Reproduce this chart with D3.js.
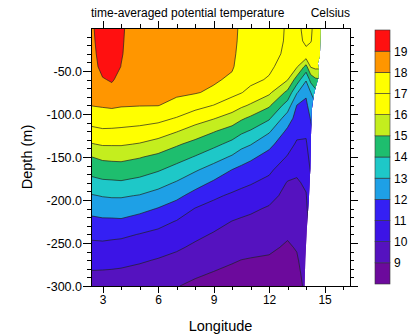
<!DOCTYPE html>
<html>
<head>
<meta charset="utf-8">
<script src="https://cdn.jsdelivr.net/npm/d3@7"></script>
<style>
  body { margin: 0; background: #fff; }
  svg { display: block; font-family: "Liberation Sans", Arial, Helvetica, sans-serif; }
</style>
</head>
<body>
<svg id="chart" width="408" height="336"></svg>
<script>
// grid: one column of temperatures per longitude,
// top to bottom at the depths below
const lons = [2.375, 3, 3.5, 4, 5, 6, 7, 8, 9, 10, 10.5, 11, 12, 13, 13.5, 14, 14.25, 14.5, 15];
const depths = [0, 15, 30, 45, 60, 75, 90, 105, 120, 135, 150, 165, 180, 195, 210, 225, 240, 255, 270, 285, 300];

const temps = [
  [18.85, 18.8, 18.72, 18.6, 18.42, 18.2, 18.02, 17.42, 16.74, 15.94, 14.98, 14.35, 13.65, 12.92, 12.32, 11.75, 11.21, 10.74, 10.31, 9.92, 9.6],   // 2.375
  [19.4, 19.38, 19.34, 19.26, 18.94, 18.51, 18.09, 17.51, 16.87, 16.1, 15.19, 14.49, 13.82, 13.05, 12.43, 11.83, 11.26, 10.76, 10.32, 9.9, 9.55],   // 3
  [19.45, 19.42, 19.36, 19.25, 19.08, 18.73, 18.15, 17.52, 16.85, 16.1, 15.24, 14.52, 13.85, 13.1, 12.46, 11.83, 11.21, 10.71, 10.29, 9.88, 9.55], // 3.5
  [19.06, 19.05, 19.04, 18.99, 18.77, 18.42, 18.07, 17.48, 16.81, 16.1, 15.26, 14.55, 13.89, 13.1, 12.48, 11.86, 11.17, 10.67, 10.24, 9.85, 9.5],  // 4
  [18.75, 18.72, 18.65, 18.55, 18.42, 18.24, 18.03, 17.41, 16.7, 15.94, 15.06, 14.39, 13.7, 12.95, 12.27, 11.61, 10.97, 10.54, 10.11, 9.72, 9.4],   // 5
  [18.8, 18.75, 18.67, 18.55, 18.4, 18.2, 18.02, 17.28, 16.49, 15.63, 14.77, 14.09, 13.35, 12.64, 11.96, 11.3, 10.78, 10.36, 9.94, 9.53, 9.11],     // 6
  [18.7, 18.65, 18.57, 18.45, 18.3, 18.15, 17.74, 16.94, 16.06, 15.13, 14.38, 13.65, 12.91, 12.23, 11.57, 10.95, 10.54, 10.14, 9.73, 9.36, 9.04],   // 7
  [18.6, 18.55, 18.47, 18.35, 18.22, 18.07, 17.33, 16.46, 15.56, 14.7, 13.94, 13.11, 12.38, 11.67, 10.97, 10.59, 10.21, 9.84, 9.49, 9.14, 8.82],    // 8
  [18.5, 18.45, 18.38, 18.27, 18.13, 17.83, 16.98, 16.06, 15.07, 14.26, 13.41, 12.6, 11.86, 11.16, 10.7, 10.31, 9.93, 9.61, 9.28, 8.96, 8.7],       // 9
  [18.25, 18.22, 18.17, 18.1, 17.84, 17.26, 16.52, 15.57, 14.59, 13.72, 12.88, 11.98, 11.4, 10.86, 10.43, 9.98, 9.69, 9.39, 9.08, 8.8, 8.55],       // 10
  [17.85, 17.82, 17.75, 17.62, 17.4, 17.04, 16.18, 15.14, 14.19, 13.33, 12.47, 11.75, 11.21, 10.73, 10.27, 9.88, 9.59, 9.29, 8.99, 8.75, 8.5],      // 10.5
  [17.7, 17.66, 17.58, 17.45, 17.25, 16.73, 15.89, 14.82, 13.92, 13.06, 12.18, 11.59, 11.07, 10.61, 10.15, 9.81, 9.52, 9.23, 8.95, 8.7, 8.45],      // 11
  [17.45, 17.42, 17.35, 17.2, 16.9, 16.19, 15.15, 14.13, 13.13, 12.26, 11.67, 11.19, 10.74, 10.29, 9.91, 9.66, 9.4, 9.14, 8.9, 8.7, 8.5],           // 12
  [16.9, 16.88, 16.8, 16.5, 16.05, 14.75, 13.54, 12.5, 11.8, 11.37, 10.93, 10.39, 9.94, 9.73, 9.51, 9.3, 9.09, 8.9, 8.75, 8.6, 8.45],                // 13
  [16.8, 16.75, 16.6, 16.1, 14.56, 13.09, 11.98, 11.63, 11.25, 10.88, 10.51, 10.15, 9.9, 9.73, 9.56, 9.39, 9.22, 9.06, 8.9, 8.75, 8.6],             // 13.5
  [17.25, 17.15, 16.8, 14.68, 13.1, 12.18, 11.76, 11.46, 11.16, 10.88, 10.63, 10.38, 10.13, 9.95, 9.85, 9.75, 9.65, 9.55, 9.45, 9.35, 9.25],         // 14
  [17.12, 17.05, 16.63, 16.07, 14.33, 12.98, 12.53, 12.06, 11.8, 11.56, 11.33, 11.09, 10.88, 10.68, 10.48, 10.28, 10.08, 9.9, 9.8, 9.7, 9.6],       // 14.25
  [16.75, 16.7, 16.55, 16.25, 14.83, 13.64, 12.87, 12.54, 12.22, 11.9, 11.6, 11.35, 11.1, 10.9, 10.7, 10.5, 10.3, 10.1, 9.95, 9.85, 9.75],           // 14.5
  [16.7, 16.65, 16.5, 16.2, 15.02, 13.8, 13.02, 12.6, 12.25, 11.9, 11.6, 11.35, 11.1, 10.9, 10.7, 10.5, 10.3, 10.1, 9.95, 9.85, 9.75]                 // 15
];

// edge of the valid data (land on the right)
const coastLon = [14.78, 14.77, 14.75, 14.64, 14.69, 14.67, 14.53, 14.42, 14.31, 14.26, 14.23, 14.15, 14.04, 13.96, 13.92];
const coastDepth = [0, 14, 32, 41, 49, 58, 68, 78, 95, 130, 163, 200, 234, 269, 300];

const levels = [9, 10, 11, 12, 13, 14, 15, 16, 17, 18, 19];
const colors = ["#6c0a9c", "#5512bf", "#3c14e6", "#3420f4", "#1ea0e6", "#1ec8c8",
                "#1ebe6e", "#c4ee1e", "#ffff00", "#ffff00", "#ff9600", "#ff1010"];

const xTicks = [3, 6, 9, 12, 15];
const yTicks = [-50, -100, -150, -200, -250, -300];

const svg = d3.select('#chart');

const x = d3.scaleLinear().domain([2.375, 16.375]).range([91, 350]);
const y = d3.scaleLinear().domain([0, -300]).range([28, 286]);

// flat grid for d3.contours
const nx = lons.length, ny = depths.length;
const grid = new Array(nx * ny);
temps.forEach((col, i) => col.forEach((v, j) => { grid[i + j * nx] = v; }));

// grid index -> lon / depth (uneven spacing)
const ix = d3.scaleLinear().domain(lons.map((d, i) => i + 0.5)).range(lons);
const iy = d3.scaleLinear().domain(depths.map((d, i) => i + 0.5)).range(depths);

const path = d3.geoPath(d3.geoTransform({
  point(px, py) { this.stream.point(x(ix(px)), y(-iy(py))); }
}));

const bands = d3.contours().size([nx, ny]).thresholds(levels)(grid);

// clip to ocean
const clipPts = [[x.domain()[0], 0]]
  .concat(coastLon.map((lon, i) => [lon, -coastDepth[i]]))
  .concat([[x.domain()[0], -300]])
  .map(p => [x(p[0]), y(p[1])]);

svg.append('clipPath').attr('id', 'ocean')
  .append('polygon')
  .attr('points', clipPts.map(p => p.join(',')).join(' '));

const plot = svg.append('g').attr('clip-path', 'url(#ocean)');

plot.append('rect')
  .attr('x', x.range()[0]).attr('y', y.range()[0])
  .attr('width', x.range()[1] - x.range()[0])
  .attr('height', y.range()[1] - y.range()[0])
  .attr('fill', colors[0]);

plot.selectAll('path.fill')
  .data(bands)
  .join('path')
  .attr('class', 'fill')
  .attr('d', path)
  .attr('fill', d => colors[levels.indexOf(d.value) + 1]);

plot.selectAll('path.line')
  .data(bands)
  .join('path')
  .attr('class', 'line')
  .attr('d', path)
  .attr('fill', 'none')
  .attr('stroke', '#222')
  .attr('stroke-width', 0.7);

// axes, ticks point outward on all four sides
function styleAxis (g, size) {
  g.select('.domain').remove();
  g.attr('font-family', null).attr('font-size', size);
  g.selectAll('line').attr('stroke', '#000').attr('shape-rendering', 'crispEdges');
  g.selectAll('text').attr('fill', '#000');
}

const xMinor = d3.range(3, 17);
const yMinor = d3.range(-10, -301, -10);

const [x0, x1] = x.range(), [y0, y1] = y.range();

svg.append('g').attr('transform', `translate(0,${y1})`)
  .call(d3.axisBottom(x).tickValues(xTicks).tickSize(7).tickPadding(2).tickFormat(d3.format('d')))
  .call(g => styleAxis(g, 12));
svg.append('g').attr('transform', `translate(0,${y1})`)
  .call(d3.axisBottom(x).tickValues(xMinor).tickSize(4).tickFormat(''))
  .call(g => styleAxis(g, 12));
svg.append('g').attr('transform', `translate(0,${y0})`)
  .call(d3.axisTop(x).tickValues(xTicks).tickSize(7).tickFormat(''))
  .call(g => styleAxis(g, 12));
svg.append('g').attr('transform', `translate(0,${y0})`)
  .call(d3.axisTop(x).tickValues(xMinor).tickSize(4).tickFormat(''))
  .call(g => styleAxis(g, 12));

svg.append('g').attr('transform', `translate(${x0},0)`)
  .call(d3.axisLeft(y).tickValues(yTicks).tickSize(8).tickPadding(1).tickFormat(d => d.toFixed(1)))
  .call(g => styleAxis(g, 12.5));
svg.append('g').attr('transform', `translate(${x0},0)`)
  .call(d3.axisLeft(y).tickValues(yMinor).tickSize(4).tickFormat(''))
  .call(g => styleAxis(g, 12.5));
svg.append('g').attr('transform', `translate(${x1},0)`)
  .call(d3.axisRight(y).tickValues(yTicks).tickSize(8).tickFormat(''))
  .call(g => styleAxis(g, 12));
svg.append('g').attr('transform', `translate(${x1},0)`)
  .call(d3.axisRight(y).tickValues(yMinor).tickSize(4).tickFormat(''))
  .call(g => styleAxis(g, 12));

svg.append('rect')
  .attr('x', x0).attr('y', y0)
  .attr('width', x1 - x0).attr('height', y1 - y0)
  .attr('fill', 'none').attr('stroke', '#000')
  .attr('shape-rendering', 'crispEdges');

// titles
svg.append('text').attr('x', x0).attr('y', 17)
  .attr('font-size', 12).text('time-averaged potential temperature');
svg.append('text').attr('x', x1).attr('y', 17)
  .attr('font-size', 12).attr('text-anchor', 'end').text('Celsius');
svg.append('text').attr('x', (x0 + x1) / 2).attr('y', 331)
  .attr('font-size', 14.5).attr('text-anchor', 'middle').text('Longitude');
svg.append('text').attr('transform', `translate(32,${(y0 + y1) / 2}) rotate(-90)`)
  .attr('font-size', 14.5).attr('text-anchor', 'middle').text('Depth (m)');

// colour bar
const cb = d3.scaleLinear().domain([levels[0] - 1, levels[levels.length - 1] + 1]).range([284, 30]);
const cbX = 375, cbW = 15;

svg.append('g').selectAll('rect')
  .data(colors)
  .join('rect')
  .attr('x', cbX)
  .attr('y', (c, i) => cb(levels[0] + i))
  .attr('width', cbW)
  .attr('height', (c, i) => cb(levels[0] + i - 1) - cb(levels[0] + i))
  .attr('fill', c => c)
  .attr('stroke', '#333')
  .attr('stroke-width', 0.6);

svg.append('g').attr('transform', `translate(${cbX + cbW},0)`)
  .call(d3.axisRight(cb).tickValues(levels).tickSize(0).tickPadding(4))
  .call(g => styleAxis(g, 12));
</script>
</body>
</html>
